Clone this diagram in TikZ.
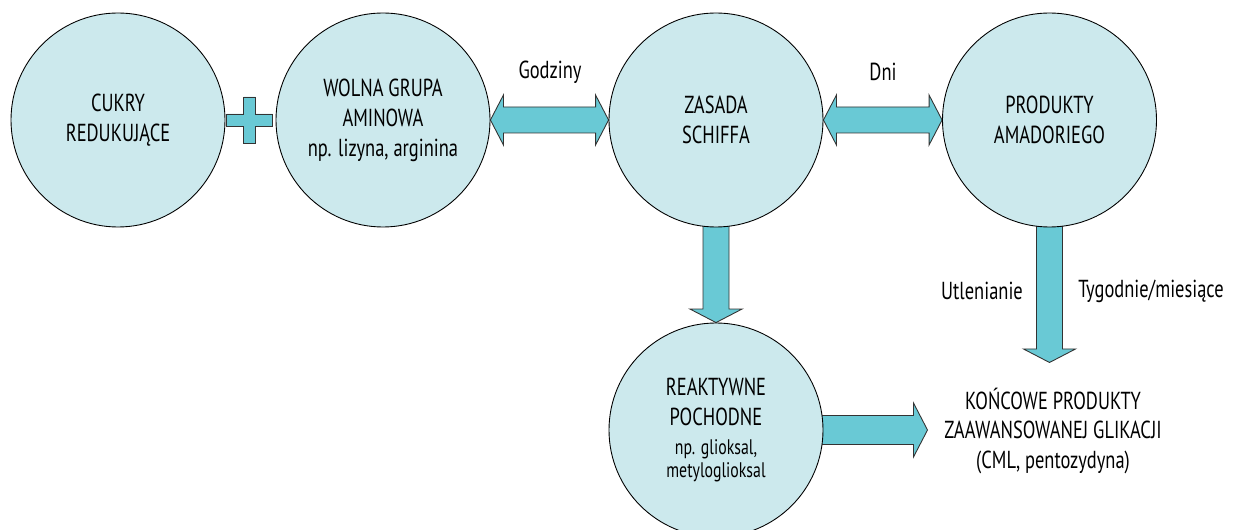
\documentclass[tikz,border=0pt]{standalone}
\usepackage{fontspec}
\setmainfont{PT Sans}[FakeStretch=0.75]
\usetikzlibrary{calc,backgrounds}
\definecolor{bubblefill}{HTML}{CCE9ED}
\definecolor{arrowfill}{HTML}{69C9D5}
\tikzset{
	bubble/.style={circle, draw=black, line width=0.5pt, fill=bubblefill, minimum size=4.28cm, inner sep=0pt, align=center, font=\fontsize{14}{17}\selectfont},
	blockarrow/.style={draw=black!80, line width=0.5pt, fill=arrowfill, line join=miter},
	tag/.style={font=\fontsize{14}{17}\selectfont}
}
\newcommand{\subtext}{\fontsize{12}{13}\selectfont}
\newcommand{\twoway}[2]{%
	\draw[blockarrow] (#1) -- ++(0.26,0.5) -- ++(0,-0.24) -- ($(#2)+(-0.26,0.26)$) -- ++(0,0.24) -- (#2) -- ++(-0.26,-0.5) -- ++(0,0.24) -- ($(#1)+(0.26,-0.26)$) -- ++(0,-0.24) -- cycle;}
\newcommand{\downblock}[2]{%
	\draw[blockarrow] ($(#1)+(-0.26,0.1)$) -- ($(#2)+(-0.26,0.27)$) -- ++(-0.26,0) -- (#2) -- ++(0.52,0.27) -- ++(-0.26,0) -- ($(#1)+(0.26,0.1)$) -- cycle;}
\newcommand{\rightblock}[2]{%
	\draw[blockarrow] ($(#1)+(-0.1,0.29)$) -- ($(#2)+(-0.28,0.29)$) -- ++(0,0.25) -- (#2) -- ++(-0.28,-0.54) -- ++(0,0.25) -- ($(#1)+(-0.1,-0.29)$) -- cycle;}

\begin{document}
\begin{tikzpicture}
		\clip (0,0) rectangle (24.7,-10.6);
		\node[bubble] (cukry) at (2.36,-2.40) {CUKRY\\REDUKUJĄCE};
		\node[bubble] (wolna) at (7.66,-2.40) {WOLNA GRUPA\\AMINOWA\\np. lizyna, arginina};
		\node[bubble] (zasada) at (14.32,-2.40) {ZASADA\\SCHIFFA};
		\node[bubble] (amadori) at (20.99,-2.40) {PRODUKTY\\AMADORIEGO};
		\node[bubble] (reakt) at (14.32,-8.60) {REAKTYWNE\\POCHODNE\\{\subtext np. glioksal,}\\[-4pt]{\subtext metyloglioksal}};
		\coordinate (amadoriend) at (20.99,-7.25);
		\coordinate (reaktend) at (18.55,-8.60);
		\draw[blockarrow, shift={(4.99,-2.40)}] (-0.12,0.46) -- (0.12,0.46) -- (0.12,0.12) -- (0.46,0.12) -- (0.46,-0.12) -- (0.12,-0.12) -- (0.12,-0.46) -- (-0.12,-0.46) -- (-0.12,-0.12) -- (-0.46,-0.12) -- (-0.46,0.12) -- (-0.12,0.12) -- cycle;
		\begin{scope}[on background layer]
			\twoway{wolna.east}{zasada.west}
			\twoway{zasada.east}{amadori.west}
			\downblock{zasada.south}{reakt.north}
			\downblock{amadori.south}{amadoriend}
			\rightblock{reakt.east}{reaktend}
		\end{scope}
		\node[tag] (godziny) at (11.0,-1.44) {Godziny};
		\node[tag] (dni) at (17.66,-1.44) {Dni};
		\node[tag] (utlenianie) at (19.64,-5.82) {Utlenianie};
		\node[tag] (tygodnie) at (23.02,-5.82) {Tygodnie/miesiące};
		\node[tag, align=center] (koncowe) at (21.06,-8.62) {KOŃCOWE PRODUKTY\\ZAAWANSOWANEJ GLIKACJI\\(CML, pentozydyna)};
\end{tikzpicture}
\end{document}
